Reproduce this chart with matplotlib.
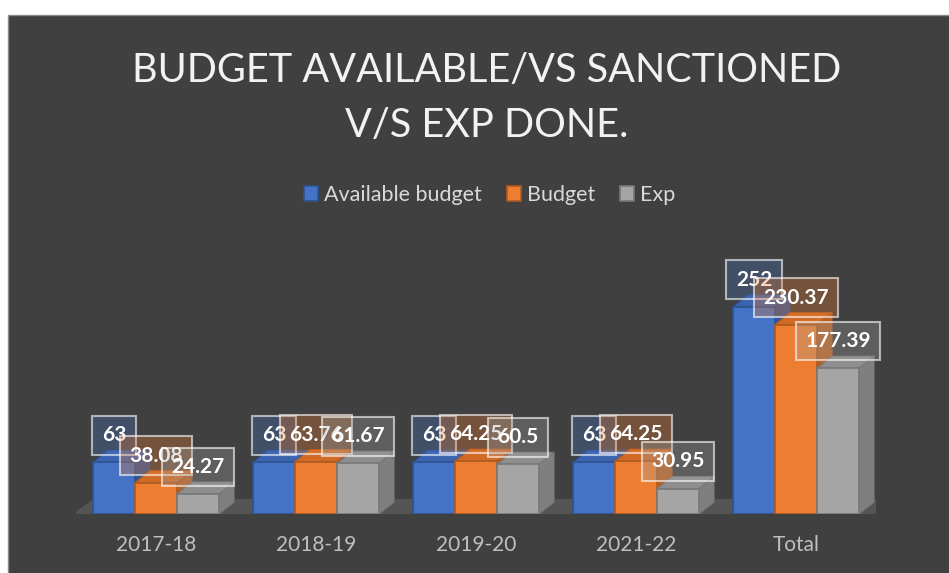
#!/usr/bin/env python3
"""Budget available vs sanctioned vs expenditure, 3D-look clustered bars."""

import matplotlib
matplotlib.use("Agg")
import matplotlib.pyplot as plt
from matplotlib.patches import Polygon, Rectangle, Patch

years = ["2017-18", "2018-19", "2019-20", "2021-22", "Total"]
available = [63, 63, 63, 63, 252]
budget = [38.08, 63.76, 64.25, 64.25, 230.37]
exp = [24.27, 61.67, 60.5, 30.95, 177.39]
labels_avail = ["63", "63", "63", "63", "252"]
labels_budget = ["38.08", "63.76", "64.25", "64.25", "230.37"]
labels_exp = ["24.27", "61.67", "60.5", "30.95", "177.39"]

series_names = ["Available budget", "Budget", "Exp"]
series_values = [available, budget, exp]
series_labels = [labels_avail, labels_budget, labels_exp]

face_colors = ["#4472C4", "#ED7D31", "#A5A5A5"]
edge_colors = ["#2F528F", "#AE5A21", "#787878"]
top_colors = ["#3A64B0", "#D06A25", "#8E8E8E"]
side_colors = ["#2F5597", "#B85F22", "#7F7F7F"]

bg = "#404040"
plt.rcParams["font.family"] = ["Lato", "DejaVu Sans"]

fig = plt.figure(figsize=(9.49, 5.73), dpi=100)
fig.patch.set_facecolor("white")
fig.patches.append(Rectangle((8 / 949, -0.01), 1.0, (573 - 15) / 573 + 0.01,
                             transform=fig.transFigure, facecolor=bg,
                             edgecolor="#8C8C8C", lw=1.0, zorder=-5))

ax = fig.add_axes([76 / 949, 59 / 573, 800 / 949, 246.6 / 573])
ax.set_zorder(2)
ax.set_facecolor("none")
ax.set_xlim(-0.5, 4.5)
ax.set_ylim(0, 300)
for s in ax.spines.values():
    s.set_visible(False)
ax.set_yticks([])

width = 0.2625
offsets = [-width, 0.0, width]
dx, dy = 0.094, 14.6      # bar depth
fdx, fdy = 0.1375, 18.2   # floor depth

# floor
fl, fr = -0.525, 4.494
ax.add_patch(Polygon([(fl, 0), (fr, 0), (fr + fdx, fdy), (fl + fdx, fdy)],
                     closed=True, facecolor="#555555", edgecolor="none", zorder=1))

z = 2
for i in range(len(years)):
    for s in range(3):
        v = series_values[s][i]
        xc = i + offsets[s]
        x0 = xc - width / 2
        ax.add_patch(Polygon([(x0 + width, 0), (x0 + width + dx, dy),
                              (x0 + width + dx, v + dy), (x0 + width, v)],
                             closed=True, facecolor=side_colors[s],
                             edgecolor=edge_colors[s], lw=0.8, zorder=z))
        ax.add_patch(Polygon([(x0, v), (x0 + width, v), (x0 + width + dx, v + dy),
                              (x0 + dx, v + dy)],
                             closed=True, facecolor=top_colors[s],
                             edgecolor=edge_colors[s], lw=0.8, zorder=z))
        ax.bar(xc, v, width=width, color=face_colors[s],
               edgecolor=edge_colors[s], linewidth=1.2, zorder=z + 0.5)
        z += 1

# data labels
for s in range(3):
    for i in range(len(years)):
        ax.annotate(series_labels[s][i], (i + offsets[s], series_values[s][i]),
                    xytext=(0, 19.5), textcoords="offset points",
                    ha="center", va="center", fontsize=15, fontweight="bold",
                    color="white", zorder=100 + s,
                    bbox=dict(boxstyle="square,pad=0.45",
                              facecolor=matplotlib.colors.to_rgba(face_colors[s], 0.3),
                              edgecolor=(1, 1, 1, 0.6), lw=1.5))

ax.set_xticks(range(len(years)), years)
ax.tick_params(axis="x", length=0, colors="#BFBFBF", labelsize=15, pad=15)

fig.text(0.513, 0.829, "BUDGET AVAILABLE/VS SANCTIONED\nV/S EXP DONE.",
         ha="center", va="center", fontsize=28.5, color="#F2F2F2",
         fontweight="normal", linespacing=1.6)

handles = [Patch(facecolor=face_colors[s], edgecolor=edge_colors[s], lw=1.2)
           for s in range(3)]
fig.legend(handles, series_names, loc="center", bbox_to_anchor=(0.516, 0.6597),
           ncol=3, frameon=False, fontsize=15.5, labelcolor="#D9D9D9",
           handlelength=0.65, handleheight=0.65, handletextpad=0.3,
           columnspacing=1.15)

fig.savefig("out.png", dpi=100, facecolor=fig.get_facecolor())
